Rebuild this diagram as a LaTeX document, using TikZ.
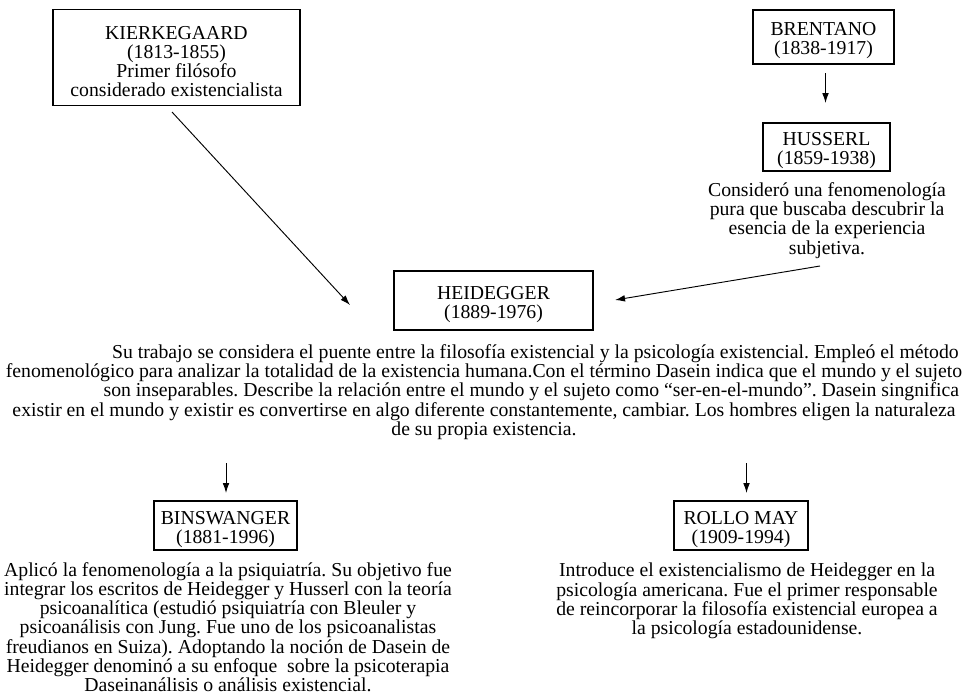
\documentclass[tikz,border=0pt]{standalone}
\usepackage{fontspec}
\setmainfont{Liberation Serif}
\usetikzlibrary{arrows.meta}
\newcommand\mytopstrut{\rule{0pt}{15.5pt}}
\begin{document}
\begin{tikzpicture}[x=0.75pt,y=-0.75pt,
  box/.style={draw,line width=0.8pt,inner sep=0pt,align=center,font=\fontsize{14.8}{14.3}\selectfont\frenchspacing},
  txt/.style={inner sep=0pt,align=center,font=\fontsize{14.8}{14.4}\selectfont\frenchspacing},
  arr/.style={line width=0.7pt,-{Latex[length=7.5pt,width=5pt]}}]
\useasboundingbox (0,0) rectangle (966,694);
\node[box,minimum width=247*0.75pt,minimum height=96*0.75pt] (kier) at (176.5,57.5) {\mytopstrut KIERKEGAARD\\(1813-1855)\\Primer filósofo\\considerado existencialista};
\node[box,minimum width=141*0.75pt,minimum height=54*0.75pt] (bren) at (823.5,37) {\mytopstrut BRENTANO\\(1838-1917)};
\node[box,minimum width=127*0.75pt,minimum height=48*0.75pt] (huss) at (826.5,147) {\mytopstrut HUSSERL\\(1859-1938)};
\node[txt] (husstxt) at (827,220.5) {Consideró una fenomenología\\pura que buscaba descubrir la\\esencia de la experiencia\\subjetiva.};
\node[box,minimum width=199*0.75pt,minimum height=59*0.75pt] (heid) at (493.5,300.5) {\mytopstrut HEIDEGGER\\(1889-1976)};
\node[txt] (heidtxt) at (484,392) {\hspace*{77pt}Su trabajo se considera el puente entre la filosofía existencial y la psicología existencial. Empleó el método\\fenomenológico para analizar la totalidad de la existencia humana.Con el término Dasein indica que el mundo y el sujeto\\\hspace*{71pt}son inseparables. Describe la relación entre el mundo y el sujeto como “ser-en-el-mundo”. Dasein singnifica\\existir en el mundo y existir es convertirse en algo diferente constantemente, cambiar. Los hombres eligen la naturaleza\\de su propia existencia.};
\node[box,minimum width=143*0.75pt,minimum height=49*0.75pt] (bins) at (225.5,525.5) {\mytopstrut BINSWANGER\\(1881-1996)};
\node[txt] (binstxt) at (228,627) {Aplicó la fenomenología a la psiquiatría. Su objetivo fue\\integrar los escritos de Heidegger y Husserl con la teoría\\psicoanalítica (estudió psiquiatría con Bleuler y\\psicoanálisis con Jung. Fue uno de los psicoanalistas\\freudianos en Suiza). Adoptando la noción de Dasein de\\Heidegger denominó a su enfoque\ \ sobre la psicoterapia\\Daseinanálisis o análisis existencial.};
\node[box,minimum width=134*0.75pt,minimum height=49*0.75pt] (rollo) at (741,525.5) {\mytopstrut ROLLO MAY\\(1909-1994)};
\node[txt] (rollotxt) at (747,601) {Introduce el existencialismo de Heidegger en la\\psicología americana. Fue el primer responsable\\de reincorporar la filosofía existencial europea a\\la psicología estadounidense.};
\coordinate (k1) at (172,112);
\coordinate (k2) at (350,305);
\coordinate (b1) at (825.5,73);
\coordinate (b2) at (825.5,103);
\coordinate (h1) at (820,266);
\coordinate (h2) at (615,300);
\coordinate (d1) at (226,463);
\coordinate (d2) at (226,493);
\coordinate (r1) at (746.5,463);
\coordinate (r2) at (746.5,493);
\draw[arr] (k1) -- (k2);
\draw[arr] (b1) -- (b2);
\draw[arr] (h1) -- (h2);
\draw[arr] (d1) -- (d2);
\draw[arr] (r1) -- (r2);
\end{tikzpicture}
\end{document}
